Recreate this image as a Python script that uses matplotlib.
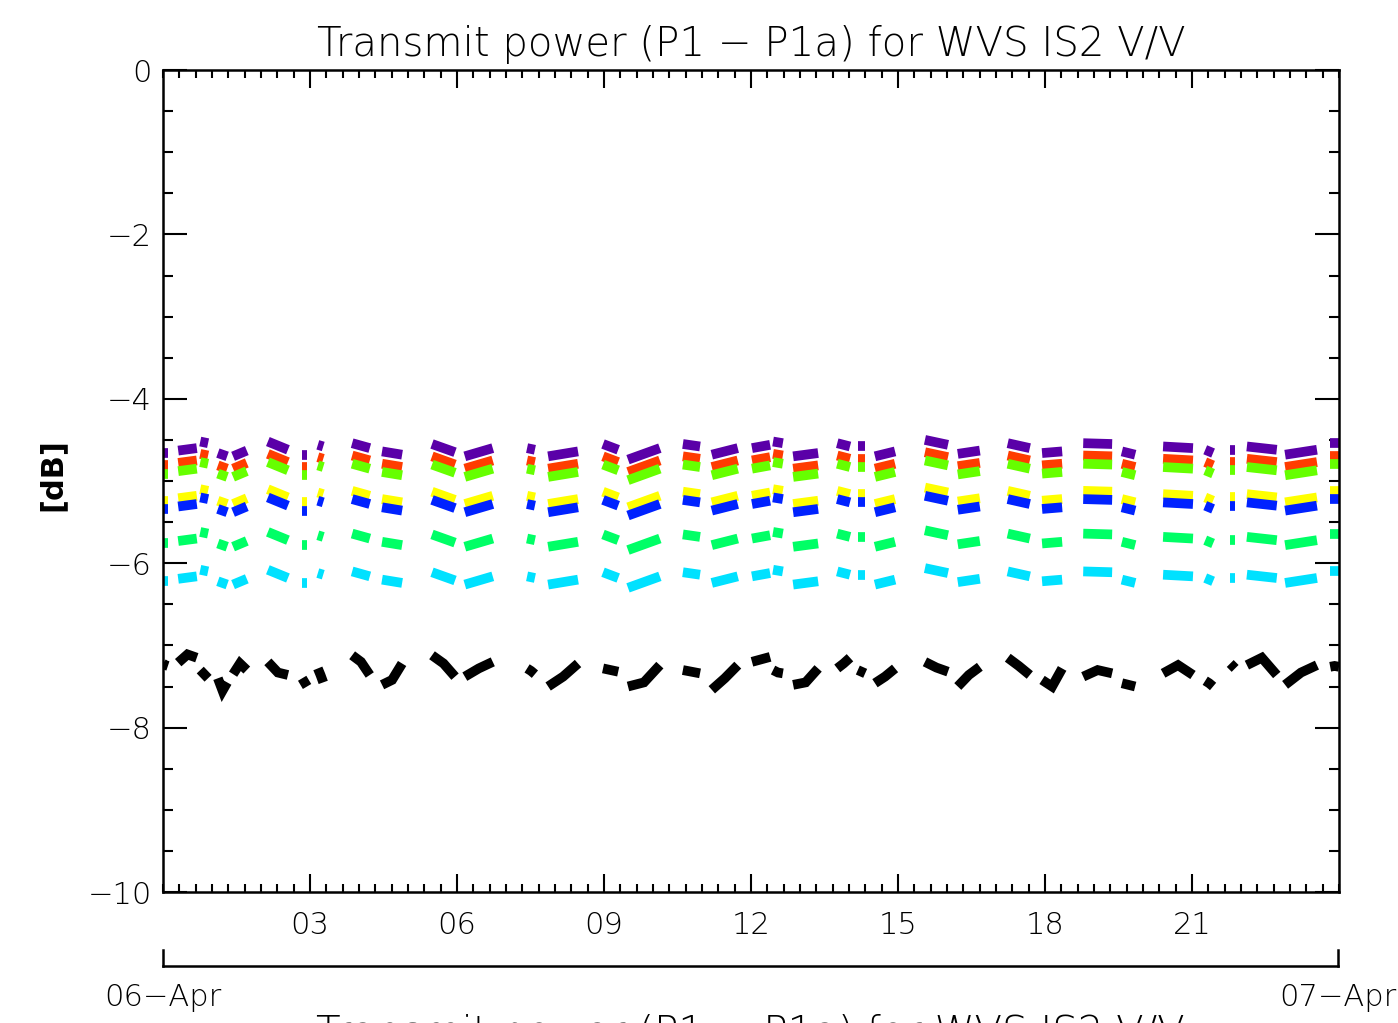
import matplotlib
matplotlib.use("Agg")
import matplotlib.pyplot as plt
from matplotlib.ticker import MultipleLocator, FixedLocator
import numpy as np

# pass segments (hours since 06-Apr 00:00)
seg_start = [0.00, 0.31, 0.76, 1.12, 1.43, 2.14, 2.84, 3.16, 3.86, 4.47, 5.49, 6.16,
             7.43, 7.86, 8.98, 9.49, 10.61, 11.20, 12.02, 12.45, 12.86, 13.76, 14.18, 14.53,
             15.55, 16.22, 17.24, 17.94, 18.78, 19.57, 20.41, 21.27, 21.78, 22.12, 22.90, 23.82]
seg_end = [0.10, 0.69, 0.92, 1.31, 1.71, 2.55, 2.94, 3.27, 4.22, 4.88, 5.96, 6.73,
           7.59, 8.47, 9.29, 10.14, 10.96, 11.73, 12.39, 12.65, 13.37, 14.02, 14.33, 14.94,
           16.02, 16.67, 17.69, 18.35, 19.37, 19.84, 21.02, 21.43, 21.88, 22.73, 23.55, 24.00]

# black trace: start / middle / end of each pass [dB]
black_a = [-7.22, -7.21, -7.30, -7.40, -7.35, -7.20, -7.40, -7.28, -7.12, -7.48, -7.12, -7.38,
           -7.28, -7.50, -7.28, -7.50, -7.30, -7.54, -7.20, -7.30, -7.48, -7.28, -7.30, -7.46,
           -7.20, -7.50, -7.15, -7.42, -7.38, -7.46, -7.34, -7.43, -7.22, -7.24, -7.48, -7.26]
black_m = [-7.24, -7.11, -7.35, -7.55, -7.22, -7.33, -7.45, -7.36, -7.20, -7.42, -7.22, -7.28,
           -7.31, -7.38, -7.30, -7.45, -7.32, -7.40, -7.17, -7.33, -7.45, -7.22, -7.32, -7.38,
           -7.27, -7.36, -7.25, -7.50, -7.30, -7.48, -7.24, -7.46, -7.25, -7.15, -7.33, -7.25]
black_b = [-7.25, -7.15, -7.40, -7.45, -7.30, -7.36, -7.50, -7.45, -7.36, -7.22, -7.38, -7.20,
           -7.35, -7.22, -7.32, -7.24, -7.34, -7.24, -7.14, -7.34, -7.28, -7.15, -7.34, -7.28,
           -7.32, -7.26, -7.36, -7.28, -7.34, -7.50, -7.36, -7.50, -7.28, -7.36, -7.24, -7.26]

# upper (purple) trace at start / end of each pass [dB]
top_a = [-4.66, -4.63, -4.52, -4.66, -4.70, -4.52, -4.68, -4.56, -4.54, -4.64, -4.55, -4.70,
         -4.60, -4.70, -4.55, -4.74, -4.55, -4.68, -4.60, -4.52, -4.70, -4.54, -4.58, -4.70,
         -4.50, -4.67, -4.54, -4.66, -4.54, -4.64, -4.58, -4.62, -4.62, -4.58, -4.68, -4.54]
top_b = [-4.66, -4.60, -4.54, -4.70, -4.63, -4.62, -4.68, -4.58, -4.60, -4.68, -4.65, -4.60,
         -4.62, -4.64, -4.62, -4.60, -4.58, -4.60, -4.56, -4.54, -4.66, -4.58, -4.58, -4.64,
         -4.56, -4.63, -4.60, -4.64, -4.55, -4.68, -4.60, -4.66, -4.62, -4.62, -4.62, -4.54]

# other coloured traces sit below the purple one by these amounts [dB]
names = ["purple", "red", "lime", "yellow", "blue", "green", "cyan"]
colors = ["#5a00a8", "#ff3c00", "#66ff00", "#ffff00", "#0022ff", "#00ff66", "#00e1ff"]
drops = [0.0, 0.15, 0.25, 0.58, 0.68, 1.10, 1.56]

hour_ticks = [3, 6, 9, 12, 15, 18, 21]
hour_labels = ["03", "06", "09", "12", "15", "18", "21"]
title = "Transmit power (P1 \u2212 P1a) for WVS IS2 V/V"

plt.rcParams["font.family"] = ["DejaVu Sans"]
plt.rcParams["font.weight"] = "light"
fig = plt.figure(figsize=(13.98, 10.23), dpi=100)
ax = fig.add_axes([163 / 1398, 1 - 892 / 1023, 1176 / 1398, 822 / 1023])

for i in range(len(seg_start)):
    t0, t1 = seg_start[i], seg_end[i]
    for c, d in zip(colors, drops):
        ax.plot([t0, t1], [top_a[i] - d, top_b[i] - d], color=c, lw=7,
                solid_capstyle="butt")
    ax.plot([t0, (t0 + t1) / 2, t1], [black_a[i], black_m[i], black_b[i]],
            color="black", lw=7, solid_capstyle="butt", solid_joinstyle="miter")

ax.set_xlim(0, 24)
ax.set_ylim(-10, 0)
ax.xaxis.set_major_locator(FixedLocator(hour_ticks))
ax.set_xticklabels(hour_labels)
ax.xaxis.set_minor_locator(MultipleLocator(1 / 3))
ax.yaxis.set_major_locator(MultipleLocator(2))
ax.yaxis.set_minor_locator(MultipleLocator(0.5))
ax.set_yticklabels([("\u2212%d" % -v) if v < 0 else "%d" % v for v in ax.get_yticks()])
ax.tick_params(which="both", direction="in", top=True, right=True, width=1.5,
               labelsize=22, colors="black")
ax.tick_params(axis="x", which="major", length=13, pad=14)
ax.tick_params(axis="x", which="minor", length=5.5)
ax.tick_params(axis="y", which="major", length=17, pad=8)
ax.tick_params(axis="y", which="minor", length=7)
for s in ax.spines.values():
    s.set_linewidth(1.8)

ax.set_title(title, fontsize=29, pad=10, fontweight="light")
fig.text(52 / 1398, 1 - 475 / 1023, "[dB]", rotation=90, fontsize=22,
         fontweight="bold", ha="center", va="center")

# date axis below
fig.add_artist(plt.Line2D([163 / 1398, 1338 / 1398], [1 - 966 / 1023] * 2,
                          color="black", lw=1.8))
for xp in (163, 1338):
    fig.add_artist(plt.Line2D([xp / 1398] * 2, [1 - 966 / 1023, 1 - 950 / 1023],
                              color="black", lw=1.8))
fig.text(163 / 1398, 1 - 998 / 1023, "06\u2212Apr", fontsize=22, ha="center", va="center")
fig.text(1338 / 1398, 1 - 998 / 1023, "07\u2212Apr", fontsize=22, ha="center", va="center")
fig.text(750 / 1398, 1 - 1014 / 1023, title, fontsize=29, ha="center", va="top")

fig.savefig("out.png", dpi=100)
